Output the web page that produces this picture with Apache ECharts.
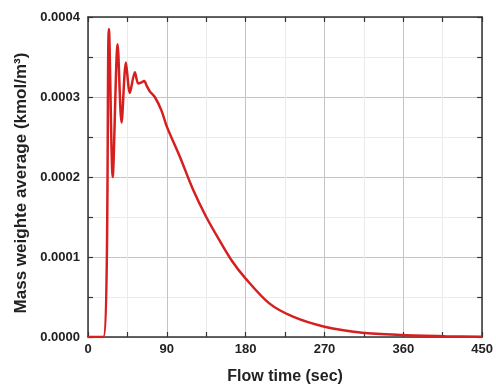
<!DOCTYPE html>
<html>
<head>
<meta charset="utf-8">
<script src="https://cdn.jsdelivr.net/npm/echarts@6/dist/echarts.min.js"></script>
<style>html,body{margin:0;padding:0;background:#fff;}#c{width:496px;height:390px;}</style>
</head>
<body>
<div id="c"></div>
<script>
var times = [0, 17.5, 23.9, 28.2, 33.8, 38.3, 43.3, 47.8, 53.5, 57.3, 60.5, 64.2, 67, 70.6, 76.3, 83.9, 90, 105, 120, 135, 150, 165, 180, 207, 234, 270, 313, 359, 408, 450];
var values = [0, 0, 0.000385, 0.0002, 0.000366, 0.000268, 0.000343, 0.000305, 0.000331, 0.000317, 0.000318, 0.00032, 0.000314, 0.000307, 0.0003, 0.000283, 0.000263, 0.000225, 0.000184, 0.00015, 0.000121, 0.000094, 0.000073, 0.000042, 0.0000254, 0.0000129, 0.0000054, 0.0000025, 0.000001, 0.0000003];
var xTicks = [0, 90, 180, 270, 360, 450];
var yTicks = [0, 0.0001, 0.0002, 0.0003, 0.0004];
var xName = 'Flow time (sec)';
var yName = 'Mass weighte average (kmol/m\u00B3)';

var data = times.map(function (t, i) { return [t, values[i]]; });
var font = 'Liberation Sans, Arial, sans-serif';
var frame = { show: true, onZero: false, lineStyle: { color: '#333', width: 1.5 } };
var tick = { show: true, inside: true, length: 5, lineStyle: { color: '#333', width: 1.2 } };
var split = { show: true, lineStyle: { color: ['#c4c4c4', '#ebebeb'], width: 1 } };

function isMajor(v, list) {
  for (var i = 0; i < list.length; i++) {
    if (Math.abs(v - list[i]) < 1e-12) return true;
  }
  return false;
}

var chart = echarts.init(document.getElementById('c'), null, { renderer: 'canvas' });
chart.setOption({
  animation: false,
  backgroundColor: '#fff',
  grid: { left: 88, right: 13, top: 17, bottom: 53, containLabel: false },
  xAxis: [{
    type: 'value', position: 'bottom', min: 0, max: 450, interval: 45,
    axisLine: frame, axisTick: tick, splitLine: split,
    axisLabel: { color: '#222', fontFamily: font, fontWeight: 'bold', fontSize: 13, margin: 6,
      formatter: function (v) { return isMajor(v, xTicks) ? String(v) : ''; } },
    name: xName, nameLocation: 'middle', nameGap: 32,
    nameTextStyle: { color: '#222', fontFamily: font, fontWeight: 'bold', fontSize: 16 }
  }, {
    type: 'value', position: 'top', min: 0, max: 450, interval: 45,
    axisLine: frame, axisTick: tick,
    splitLine: { show: false }, axisLabel: { show: false }
  }],
  yAxis: [{
    type: 'value', position: 'left', min: 0, max: 0.0004, interval: 0.00005,
    axisLine: frame, axisTick: tick, splitLine: split,
    axisLabel: { color: '#222', fontFamily: font, fontWeight: 'bold', fontSize: 13, margin: 8,
      formatter: function (v) { return isMajor(v, yTicks) ? v.toFixed(4) : ''; } },
    name: yName, nameLocation: 'middle', nameGap: 31, nameRotate: 90,
    nameTextStyle: { color: '#222', fontFamily: font, fontWeight: 'bold', fontSize: 17, padding: [0, 12, 0, 0] }
  }, {
    type: 'value', position: 'right', min: 0, max: 0.0004, interval: 0.00005,
    axisLine: frame, axisTick: tick,
    splitLine: { show: false }, axisLabel: { show: false }
  }],
  series: [{
    type: 'line', data: data, xAxisIndex: 0, yAxisIndex: 0,
    showSymbol: false, smooth: 0.3,
    lineStyle: { color: '#d61f1f', width: 2.5 },
    z: 5
  }]
});
</script>
</body>
</html>
